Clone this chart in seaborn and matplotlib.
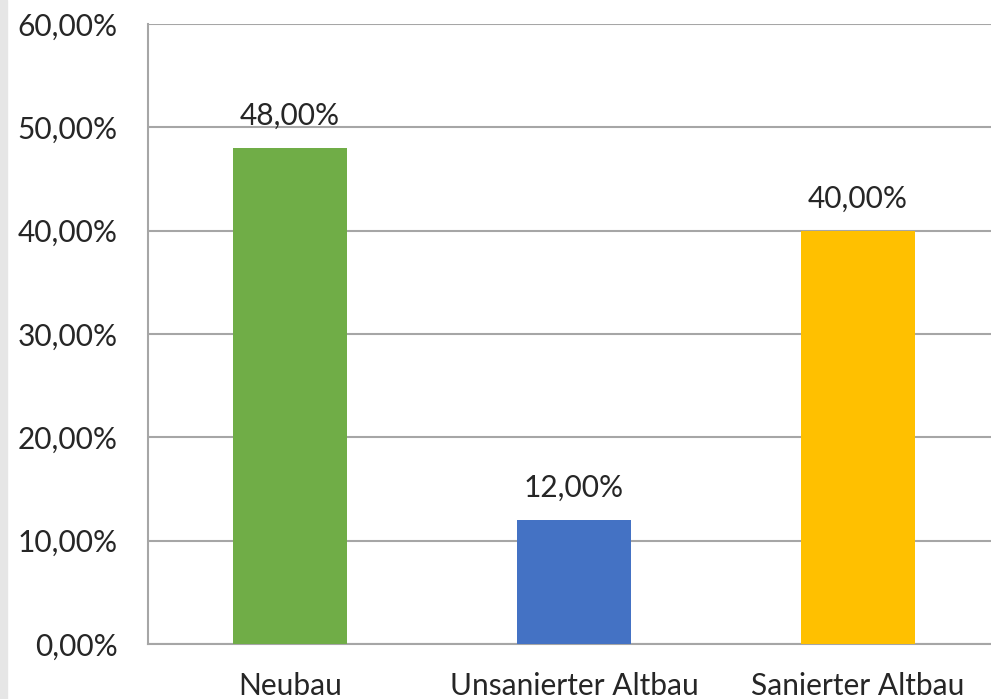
import pandas as pd
import numpy as np
import matplotlib.pyplot as plt
import seaborn as sns
from matplotlib.patches import Rectangle
from matplotlib.ticker import FuncFormatter

# data
categories = ['Neubau', 'Unsanierter Altbau', 'Sanierter Altbau']
shares = [48.0, 12.0, 40.0]
bar_colors = ['#70AD47', '#4472C4', '#FFC000']

df = pd.DataFrame({'Kategorie': categories, 'Anteil': shares})

sns.set_style("white")
plt.rcParams['font.family'] = ['Lato', 'DejaVu Sans']

fig = plt.figure(figsize=(9.91, 6.99), dpi=100)
fig.patches.append(Rectangle((0, 0), 7 / 991, 1, transform=fig.transFigure,
                             color='#e6e6e6', zorder=0))

ax = fig.add_axes([148 / 991, 1 - 644 / 699, 1 - 148 / 991, (644 - 24) / 699])
sns.barplot(data=df, x='Kategorie', y='Anteil', hue='Kategorie',
            palette=bar_colors, width=0.4, saturation=1, linewidth=0,
            legend=False, ax=ax, zorder=3)

ax.set_ylim(0, 60)
ax.set_xlim(-0.5, -0.5 + (991 - 148) / 284)
ax.set_yticks(np.arange(0, 61, 10))
ax.yaxis.set_major_formatter(FuncFormatter(lambda v, p: f'{v:.2f}%'.replace('.', ',')))
ax.grid(axis='y', color='#a6a6a6', linewidth=1.5, zorder=0)
ax.set_axisbelow(True)

for s in ['top', 'right']:
    ax.spines[s].set_visible(False)
ax.spines['left'].set_color('#a6a6a6')
ax.spines['left'].set_linewidth(1.5)
ax.spines['bottom'].set_color('#a6a6a6')
ax.spines['bottom'].set_linewidth(1.5)

ax.tick_params(axis='y', length=7, width=1.5, color='#a6a6a6', labelsize=21.5, pad=15)
ax.tick_params(axis='x', which='major', length=0, labelsize=21.5, pad=20)
ax.set_xticks([-0.5, 0.5, 1.5], minor=True)
ax.tick_params(axis='x', which='minor', length=7, width=1.5, color='#a6a6a6')

for c in ax.containers:
    ax.bar_label(c, labels=[f'{v:.2f}%'.replace('.', ',') for v in c.datavalues],
                 fontsize=21.5, padding=13)

ax.set_xlabel('')
ax.set_ylabel('')

plt.savefig('out.png', dpi=100)
